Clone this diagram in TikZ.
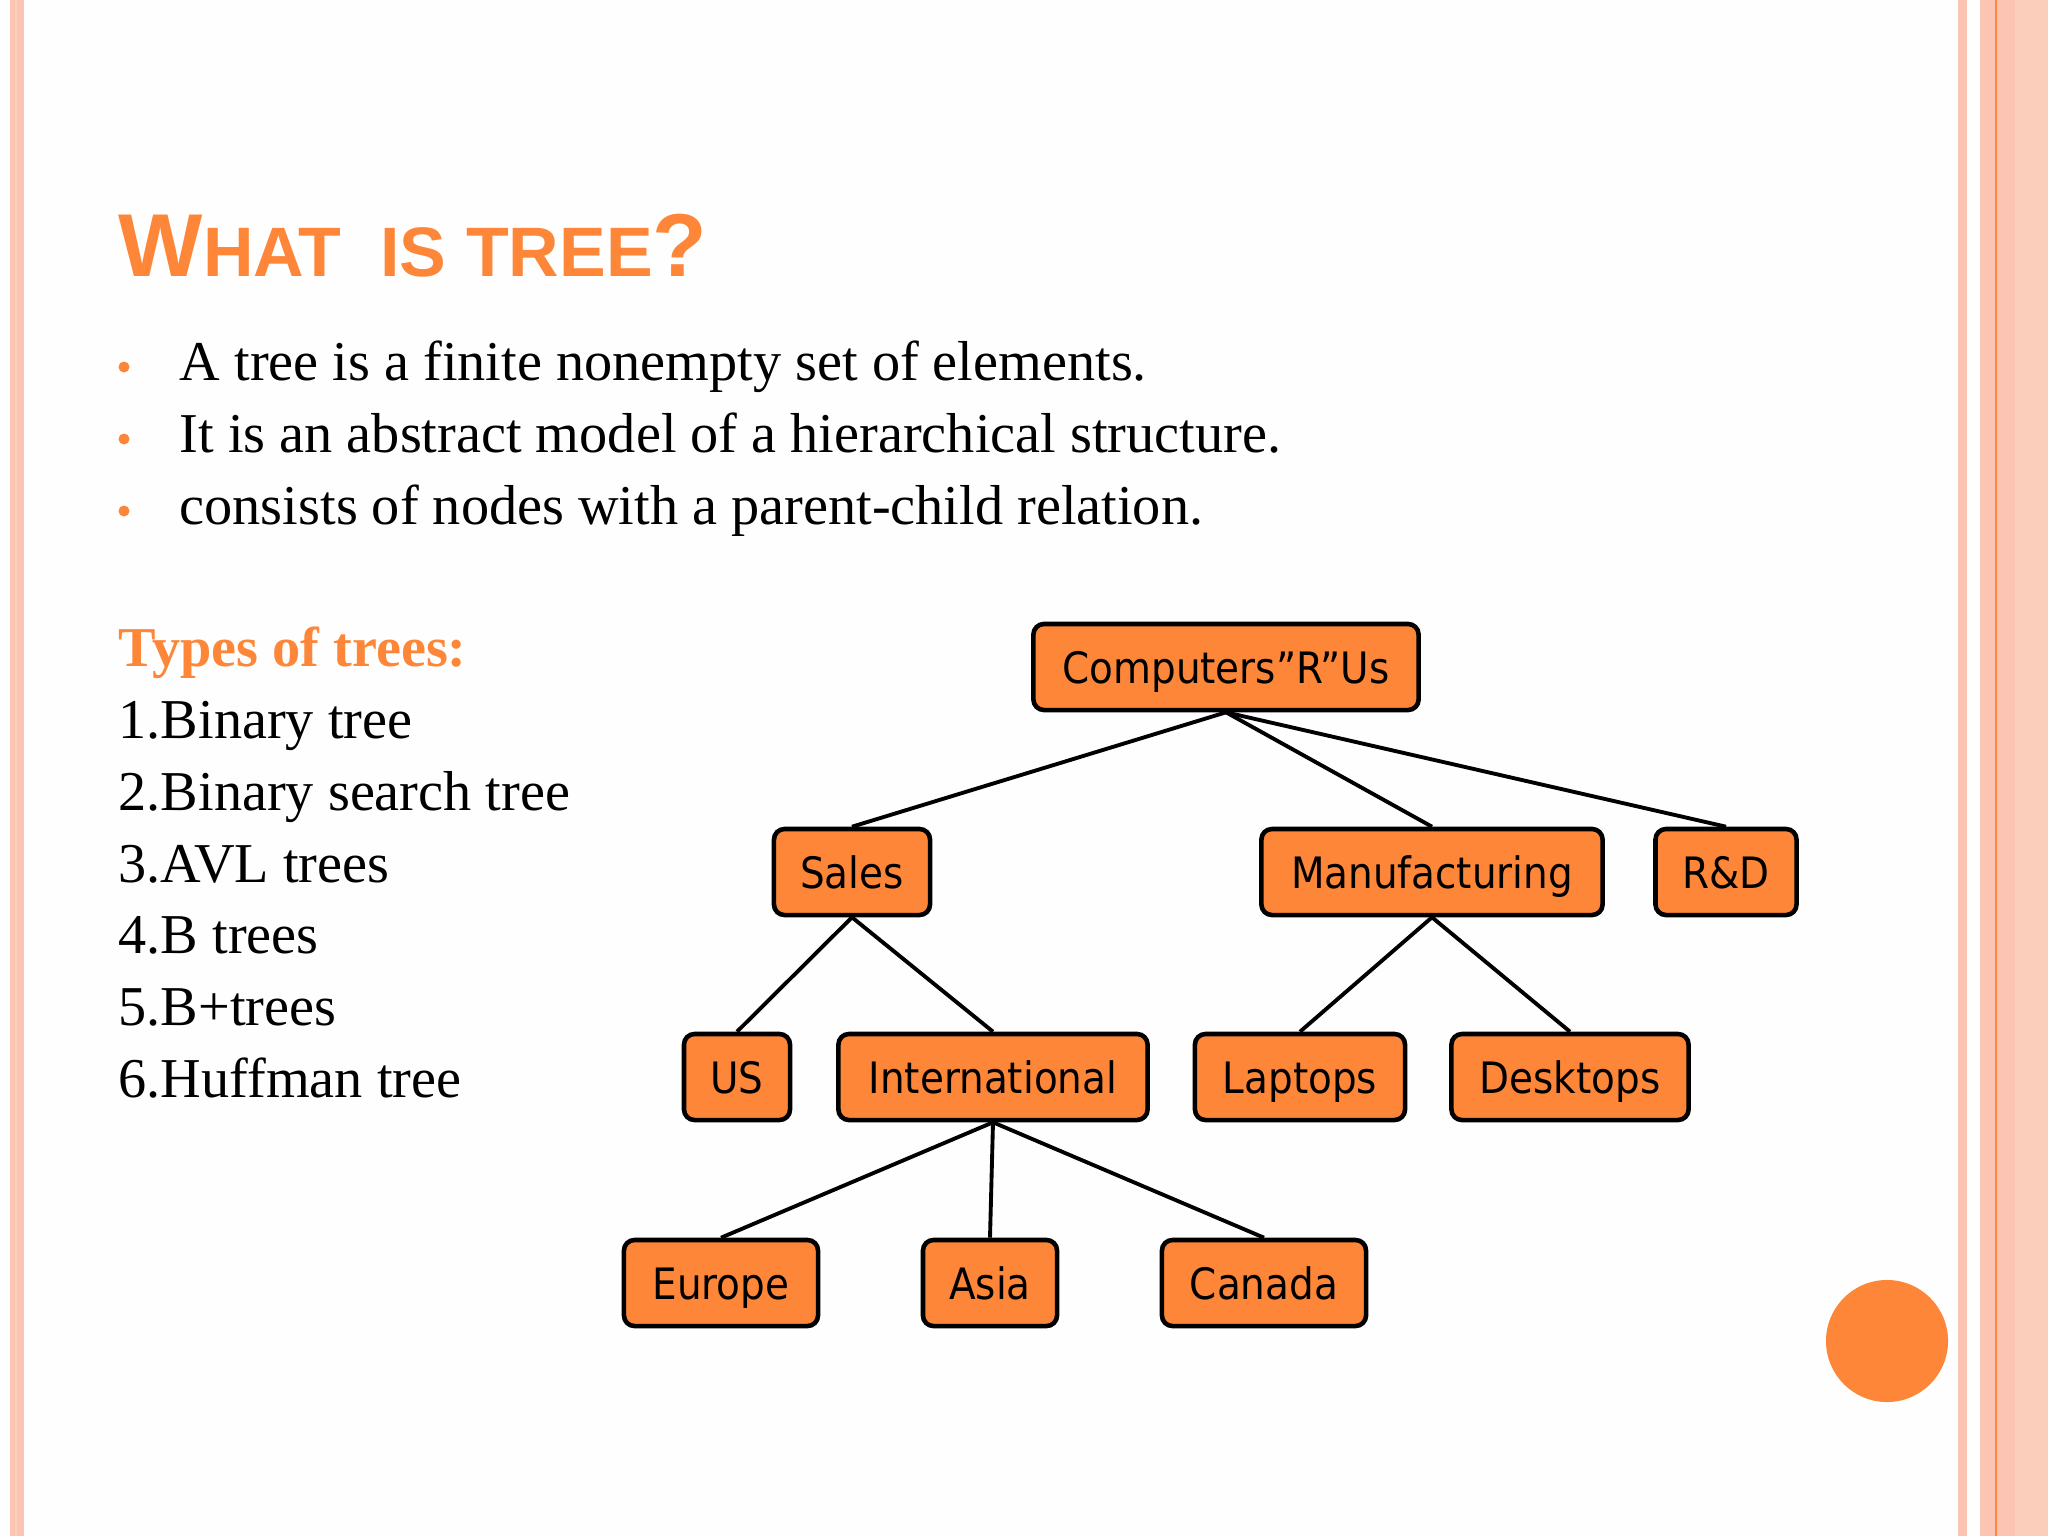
\documentclass[tikz,border=0pt]{standalone}
\usepackage{fontspec}
\setmainfont{Liberation Serif}
\newfontfamily\titlefont{Liberation Sans}
\newfontfamily\boxfont{DejaVu Sans Condensed}
\usepackage{xcolor}
\usetikzlibrary{positioning}
\definecolor{accent}{RGB}{253,134,56}
\definecolor{framepink}{RGB}{252,196,178}
\definecolor{framelight}{RGB}{251,206,188}
\definecolor{paper}{RGB}{253,254,253}

\begin{document}
\begin{tikzpicture}[
    x=0.01cm, y=-0.01cm,
    box/.style={draw, line width=1.3pt, rounded corners=3pt, fill=accent, minimum height=0.86cm, inner sep=0pt, text height=11pt, text depth=1.8pt, font=\boxfont\fontsize{12.3}{15}\selectfont},
    link/.style={line width=1.1pt},
    body/.style={anchor=base west, inner sep=0pt, font=\fontsize{16}{19}\selectfont},
    dot/.style={circle, fill=accent, inner sep=0pt, minimum size=0.11cm}
]
% page and frame
\fill[paper] (0,0) rectangle (2048,1536);
\useasboundingbox (0,0) rectangle (2048,1536);
\fill[framepink] (10,0) rectangle (24,1536);
\fill[framelight] (15,0) rectangle (17,1536);
\fill[framepink] (1958,0) rectangle (1967,1536);
\fill[framepink] (1980,0) rectangle (2048,1536);
\fill[framelight] (2015,0) rectangle (2048,1536);
\draw[accent, line width=0.6pt] (1996,0) -- (1996,1536);
\node[circle, fill=accent, inner sep=0pt, minimum size=1.22cm] (deco) at (1887,1341) {};

% title and bullets
\node[anchor=base west, inner sep=0pt, text=accent, font=\titlefont\bfseries] (title) at (118,276)
    {\fontsize{25.4}{30}\selectfont W\fontsize{19.9}{24}\selectfont HAT\ \ IS TREE\fontsize{25.4}{30}\selectfont ?};
\node[dot] (d1) at (124,367) {};
\node[dot] (d2) at (124,439) {};
\node[dot] (d3) at (124,511) {};
\node[body] (b1) at (179,380) {A tree is a finite nonempty set of elements.};
\node[body] (b2) at (179,452) {It is an abstract model of a hierarchical structure.};
\node[body] (b3) at (179,524) {consists of nodes with a parent-child relation.};

% list of tree types
\node[body, text=accent, font=\fontsize{16}{19}\selectfont\bfseries] (types) at (118,666) {Types of trees:};
\node[body] (t1) at (118,738) {1.Binary tree};
\node[body] (t2) at (118,810) {2.Binary search tree};
\node[body] (t3) at (118,882) {3.AVL trees};
\node[body] (t4) at (118,953) {4.B trees};
\node[body] (t5) at (118,1025) {5.B+trees};
\node[body] (t6) at (118,1097) {6.Huffman tree};

% tree
\node[box, minimum width=3.85cm] (root) at (1226,667) {Computers”R”Us};
\node[box, minimum width=1.56cm] (sales) at (852,872) {Sales};
\node[box, minimum width=3.41cm] (manuf) at (1432,872) {Manufacturing};
\node[box, minimum width=1.41cm] (rnd) at (1726,872) {R\&D};
\node[box, minimum width=1.06cm] (us) at (737,1077) {US};
\node[box, minimum width=3.09cm] (intl) at (993,1077) {International};
\node[box, minimum width=2.10cm] (laptops) at (1300,1077) {Laptops};
\node[box, minimum width=2.37cm] (desktops) at (1570,1077) {Desktops};
\node[box, minimum width=1.94cm] (europe) at (721,1283) {Europe};
\node[box, minimum width=1.34cm] (asia) at (990,1283) {Asia};
\node[box, minimum width=2.04cm] (canada) at (1264,1283) {Canada};
\draw[link] (root.south) -- (sales.north);
\draw[link] (root.south) -- (manuf.north);
\draw[link] (root.south) -- (rnd.north);
\draw[link] (sales.south) -- (us.north);
\draw[link] (sales.south) -- (intl.north);
\draw[link] (manuf.south) -- (laptops.north);
\draw[link] (manuf.south) -- (desktops.north);
\draw[link] (intl.south) -- (europe.north);
\draw[link] (intl.south) -- (asia.north);
\draw[link] (intl.south) -- (canada.north);
\end{tikzpicture}
\end{document}
